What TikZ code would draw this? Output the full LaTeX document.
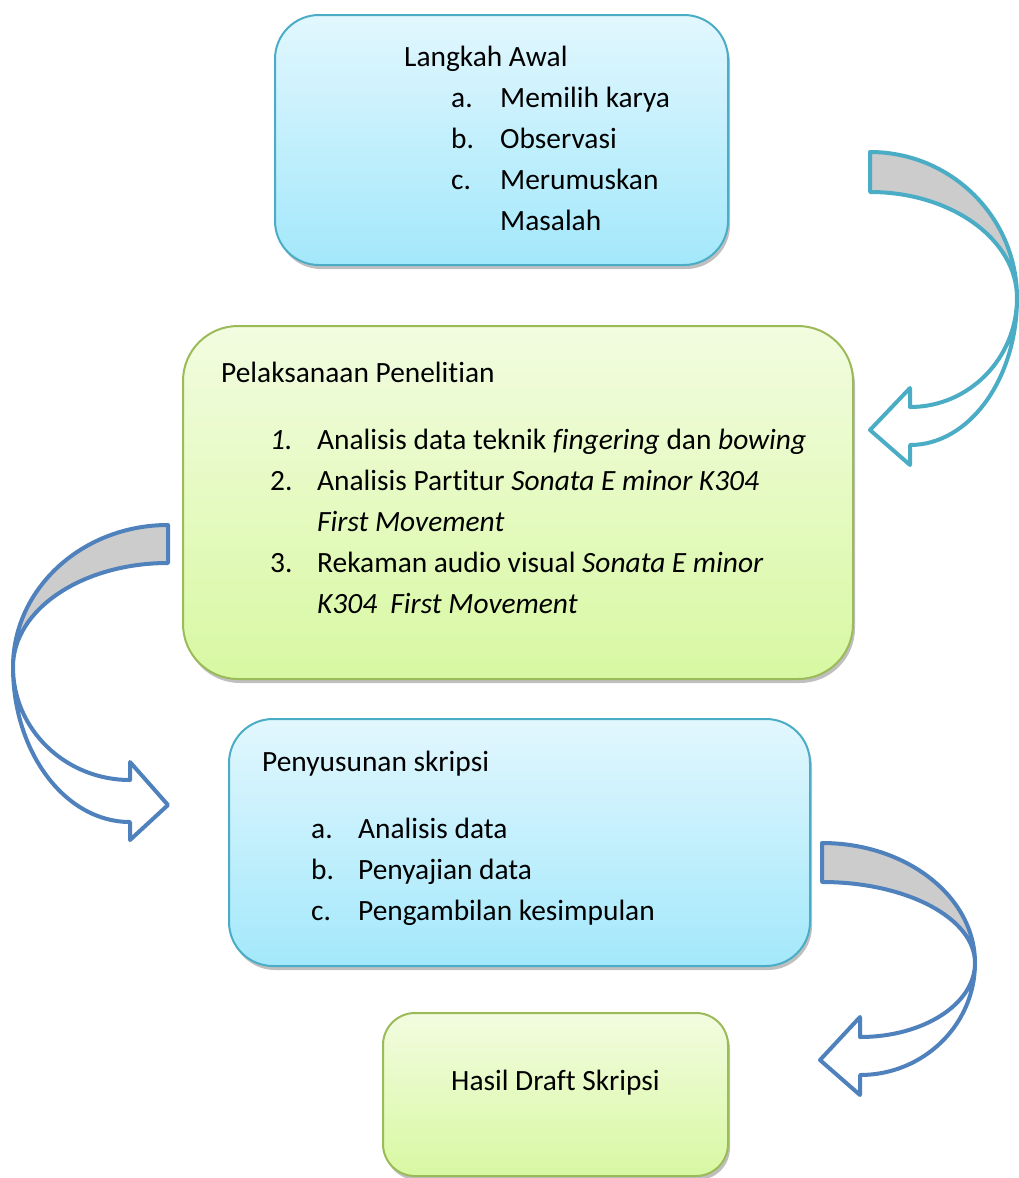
\documentclass[tikz,border=0pt]{standalone}
\usepackage{fontspec}
\setmainfont{Carlito}[Ligatures={NoCommon}]
\usetikzlibrary{shadows}
\definecolor{bluetop}{RGB}{226,247,254}
\definecolor{bluebot}{RGB}{163,232,251}
\definecolor{blueline}{RGB}{75,172,198}
\definecolor{greentop}{RGB}{242,252,224}
\definecolor{greenbot}{RGB}{216,248,162}
\definecolor{greenline}{RGB}{155,187,89}
\definecolor{arrteal}{RGB}{75,172,198}
\definecolor{arrblue}{RGB}{79,129,189}
\definecolor{backgray}{RGB}{204,204,204}
\tikzset{
  boxbase/.style={draw, line width=2pt, rectangle, inner sep=0pt,
    drop shadow={shadow xshift=2pt, shadow yshift=-4pt, opacity=0.25, fill=black}},
  bluebox/.style={boxbase, draw=blueline, top color=bluetop, bottom color=bluebot},
  greenbox/.style={boxbase, draw=greenline, top color=greentop, bottom color=greenbot},
  txt/.style={anchor=base west, inner sep=0pt, font=\fontsize{29.4}{35}\selectfont},
  backband/.style={line width=4pt, line join=round, fill=backgray},
  frontband/.style={line width=4pt, line join=round, fill=white},
}
\begin{document}
\begin{tikzpicture}[x=1pt,y=-1pt]
\useasboundingbox (0,0) rectangle (1018,1178);

% boxes
\node[bluebox, rounded corners=44pt, minimum width=453pt, minimum height=250pt] (b1) at (501.5,140) {};
\node[greenbox, rounded corners=55pt, minimum width=670pt, minimum height=353pt] (b2) at (518,502.5) {};
\node[bluebox, rounded corners=44pt, minimum width=581pt, minimum height=247pt] (b3) at (519.5,842.5) {};
\node[greenbox, rounded corners=32pt, minimum width=345pt, minimum height=163pt] (b4) at (555.5,1094.5) {};

% box 1 text
\node[txt] (t1) at (404,66) {Langkah Awal};
\node[txt] (t1a) at (451,107) {a.};
\node[txt] (t1at) at (500,107) {Memilih karya};
\node[txt] (t1b) at (451,148) {b.};
\node[txt] (t1bt) at (500,148) {Observasi};
\node[txt] (t1c) at (451,189) {c.};
\node[txt] (t1ct) at (500,189) {Merumuskan};
\node[txt] (t1d) at (500,230) {Masalah};

% box 2 text
\node[txt] (t2) at (221,382) {Pelaksanaan Penelitian};
\node[txt] (t2a) at (270,449) {\textit{1.}};
\node[txt] (t2at) at (317,449) {Analisis data teknik \textit{fingering} dan \textit{bowing}};
\node[txt] (t2b) at (270,490) {2.};
\node[txt] (t2bt) at (317,490) {Analisis Partitur \textit{Sonata E minor K304}};
\node[txt] (t2bt2) at (317,531) {\textit{First Movement}};
\node[txt] (t2c) at (270,572) {3.};
\node[txt] (t2ct) at (317,572) {Rekaman audio visual \textit{Sonata E minor}};
\node[txt] (t2ct2) at (317,613) {\textit{K304\ \ First Movement}};

% box 3 text
\node[txt] (t3) at (262,771) {Penyusunan skripsi};
\node[txt] (t3a) at (311,838) {a.};
\node[txt] (t3at) at (358,838) {Analisis data};
\node[txt] (t3b) at (311,879) {b.};
\node[txt] (t3bt) at (358,879) {Penyajian data};
\node[txt] (t3c) at (311,920) {c.};
\node[txt] (t3ct) at (358,920) {Pengambilan kesimpulan};

% box 4 text
\node[txt] (t4) at (451,1090) {Hasil Draft Skripsi};

% arrow 1 (teal, right side)
\draw[backband, draw=arrteal] (870,152) arc[start angle=-90,end angle=0,x radius=147,y radius=146]
  arc[start angle=0,end angle=-90,x radius=147,y radius=106] -- cycle;
\draw[frontband, draw=arrteal] (1017,298) arc[start angle=0,end angle=90,x radius=107,y radius=147]
  -- (910,465) -- (870,430) -- (910,388) -- (910,407)
  arc[start angle=90,end angle=0,x radius=107,y radius=109] -- cycle;

% arrow 2 (blue, left side)
\draw[backband, draw=arrblue] (168,525) arc[start angle=-90,end angle=-180,x radius=155,y radius=142]
  arc[start angle=180,end angle=270,x radius=155,y radius=104] -- cycle;
\draw[frontband, draw=arrblue] (13,667) arc[start angle=180,end angle=90,x radius=117,y radius=155]
  -- (130,840) -- (168,805) -- (130,762) -- (130,780)
  arc[start angle=90,end angle=180,x radius=117,y radius=113] -- cycle;

% arrow 3 (blue, lower right)
\draw[backband, draw=arrblue] (822,843) arc[start angle=-90,end angle=0,x radius=153,y radius=120]
  arc[start angle=0,end angle=-90,x radius=153,y radius=81] -- cycle;
\draw[frontband, draw=arrblue] (975,963) arc[start angle=0,end angle=90,x radius=115,y radius=112]
  -- (860,1095) -- (820,1060) -- (860,1017) -- (860,1037)
  arc[start angle=90,end angle=0,x radius=115,y radius=74] -- cycle;
\end{tikzpicture}
\end{document}
